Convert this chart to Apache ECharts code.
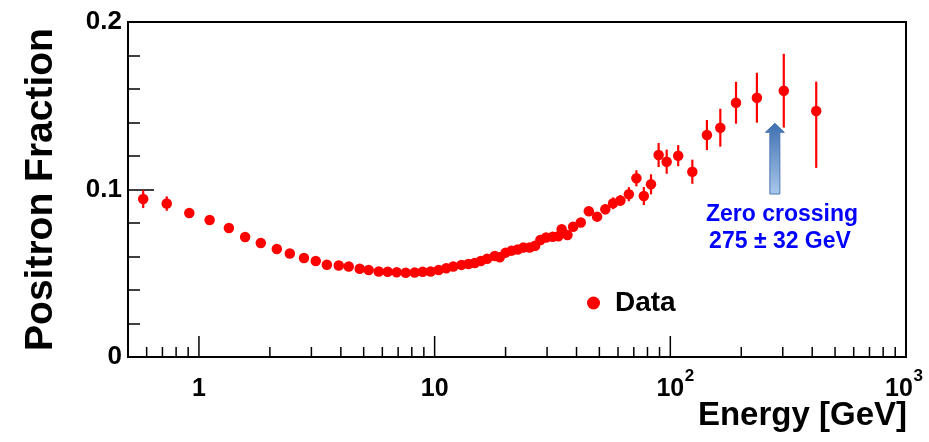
<!DOCTYPE html>
<html><head><meta charset="utf-8">
<script src="https://cdn.jsdelivr.net/npm/echarts@6/dist/echarts.min.js"></script>
<style>html,body{margin:0;padding:0;background:#fff}#c{width:929px;height:442px}</style>
</head><body><div id="c"></div>
<script>
// ---- data ----
const energy = [0.58, 0.73, 0.91, 1.11, 1.34, 1.57, 1.83, 2.14, 2.43, 2.79,
  3.13, 3.49, 3.92, 4.32, 4.81, 5.25, 5.79, 6.32, 6.90, 7.54,
  8.23, 8.90, 9.62, 10.4, 11.2, 12.0, 13.0, 13.9, 14.8, 15.7,
  16.7, 18.0, 18.9, 20.0, 21.2, 22.5, 23.8, 25.3, 26.7, 28.1,
  29.7, 31.7, 33.5, 34.6, 36.6, 38.7, 41.7, 45.1, 48.9, 53.0,
  57.2, 61.4, 66.7, 71.8, 77.2, 82.8, 89.2, 96.5, 108, 124,
  143, 163, 190, 233, 303, 416];
const fraction = [0.0943, 0.0916, 0.0860, 0.0818, 0.0770, 0.0716, 0.0681, 0.0645, 0.0618, 0.0591,
  0.0573, 0.0551, 0.0546, 0.0540, 0.0527, 0.0519, 0.0510, 0.0509, 0.0506, 0.0503,
  0.0504, 0.0509, 0.0510, 0.0519, 0.0530, 0.0540, 0.0550, 0.0555, 0.0561, 0.0573,
  0.0587, 0.0603, 0.0595, 0.0623, 0.0635, 0.0642, 0.0653, 0.0654, 0.0664, 0.0699,
  0.0713, 0.0718, 0.0721, 0.0763, 0.0728, 0.0778, 0.0803, 0.0870, 0.0838, 0.0882,
  0.0918, 0.0934, 0.0972, 0.1067, 0.0961, 0.1031, 0.1206, 0.1166, 0.1202, 0.1106,
  0.1325, 0.1369, 0.1518, 0.1548, 0.1590, 0.1469];
const errLow = [0.0054, 0.0043, 0.0020, 0.0012, 0.0012, 0.0012, 0.0012, 0.0012, 0.0012, 0.0012,
  0.0012, 0.0012, 0.0010, 0.0010, 0.0010, 0.0010, 0.0010, 0.0010, 0.0010, 0.0010,
  0.0010, 0.0010, 0.0010, 0.0010, 0.0010, 0.0010, 0.0010, 0.0010, 0.0010, 0.0010,
  0.0015, 0.0015, 0.0015, 0.0015, 0.0015, 0.0015, 0.0015, 0.0015, 0.0015, 0.0015,
  0.0020, 0.0020, 0.0020, 0.0020, 0.0020, 0.0020, 0.0020, 0.0025, 0.0025, 0.0030,
  0.0035, 0.0032, 0.0042, 0.0048, 0.0054, 0.0060, 0.0072, 0.0072, 0.0063, 0.0072,
  0.0090, 0.0113, 0.0125, 0.0149, 0.0220, 0.0340];
const errHigh = [0.0054, 0.0043, 0.0020, 0.0012, 0.0012, 0.0012, 0.0012, 0.0012, 0.0012, 0.0012,
  0.0012, 0.0012, 0.0010, 0.0010, 0.0010, 0.0010, 0.0010, 0.0010, 0.0010, 0.0010,
  0.0010, 0.0010, 0.0010, 0.0010, 0.0010, 0.0010, 0.0010, 0.0010, 0.0010, 0.0010,
  0.0015, 0.0015, 0.0015, 0.0015, 0.0015, 0.0015, 0.0015, 0.0015, 0.0015, 0.0015,
  0.0020, 0.0020, 0.0020, 0.0020, 0.0020, 0.0020, 0.0020, 0.0025, 0.0025, 0.0030,
  0.0035, 0.0032, 0.0042, 0.0048, 0.0054, 0.0060, 0.0072, 0.0072, 0.0063, 0.0072,
  0.0090, 0.0113, 0.0125, 0.0149, 0.0220, 0.0175];
const xMajorTicks = [1, 10, 100, 1000];
const xMajorLabels = ['1', '10', '10', '10'];
const xMajorExponents = ['', '', '2', '3'];
const xMinorTicks = [0.6, 0.7, 0.8, 0.9,
  2, 3, 4, 5, 6, 7, 8, 9,
  20, 30, 40, 50, 60, 70, 80, 90,
  200, 300, 400, 500, 600, 700, 800, 900];
const seriesName = 'Data';
const zeroCrossing = 275;           // GeV, arrow position
const arrowSpan = [0.0973, 0.1395]; // arrow base / tip (fraction)
const noteLines = ['Zero crossing', '275 ± 32 GeV'];

const FONT = '"Liberation Sans", Arial, Helvetica, sans-serif';
const RED = '#ff0000';

const chart = echarts.init(document.getElementById('c'));

// [value, 0, tickLength, labelIndex]
const tickData = xMajorTicks.map((v, i) => [v, 0, 21, i]).concat(xMinorTicks.map(v => [v, 0, 10, -1]));

chart.setOption({
  animation: false,
  backgroundColor: '#fff',
  grid: {left: 128, top: 22, width: 778, height: 335, show: true, borderColor: '#000', borderWidth: 2, containLabel: false},
  xAxis: {
    type: 'log', logBase: 10, min: 0.5, max: 1000,
    axisLine: {show: true, lineStyle: {color: '#000', width: 2}},
    axisTick: {show: false},
    splitLine: {show: false},
    minorTick: {show: false},
    axisLabel: {show: false}
  },
  yAxis: {
    type: 'value', min: 0, max: 0.2, interval: 0.1,
    axisLine: {show: true, lineStyle: {color: '#000', width: 2}},
    axisTick: {show: true, inside: true, length: 26, lineStyle: {color: '#000', width: 1.5}},
    minorTick: {show: true, splitNumber: 5, length: 12, lineStyle: {color: '#000', width: 1.5}},
    splitLine: {show: false},
    axisLabel: {margin: 6, color: '#000', fontFamily: FONT, fontWeight: 'bold', fontSize: 26,
      formatter: v => v === 0 ? '0' : v.toFixed(1)},
    name: 'Positron Fraction', nameLocation: 'middle', nameGap: 67, nameRotate: 90,
    nameTextStyle: {color: '#000', fontFamily: FONT, fontWeight: 'bold', fontSize: 39}
  },
  legend: {
    data: [{name: seriesName, icon: 'circle'}],
    left: 582, top: 284, itemWidth: 13, itemHeight: 13, itemGap: 0,
    textStyle: {color: '#000', fontFamily: FONT, fontWeight: 'bold', fontSize: 28, padding: [0, 0, 0, 10]}
  },
  graphic: [
    {type: 'text', right: 22, top: 399, style: {text: 'Energy [GeV]', fill: '#000', font: 'bold 33px ' + FONT}},
    {type: 'text', x: 782, y: 215, style: {text: noteLines[0], fill: '#0000ff', font: 'bold 23px ' + FONT, align: 'center', verticalAlign: 'middle'}},
    {type: 'text', x: 780, y: 242, style: {text: noteLines[1], fill: '#0000ff', font: 'bold 23px ' + FONT, align: 'center', verticalAlign: 'middle'}}
  ],
  series: [
    { // x-axis ticks (inside) and decade labels
      type: 'custom', silent: true, data: tickData, encode: {x: 0, y: 1}, z: 5, clip: false,
      renderItem: (params, api) => {
        const p = api.coord([api.value(0), api.value(1)]);
        const children = [{type: 'line', shape: {x1: p[0], y1: p[1], x2: p[0], y2: p[1] - api.value(2)},
          style: {stroke: '#000', lineWidth: 1.5}}];
        const li = api.value(3);
        if (li >= 0) {
          const exp = xMajorExponents[li];
          const cx = exp === '3' ? p[0] - 7 : p[0];
          children.push({type: 'text', x: cx, y: p[1] + 20,
            style: {text: xMajorLabels[li], fill: '#000', font: 'bold 25px ' + FONT, align: 'center', verticalAlign: 'top'}});
          if (exp) {
            children.push({type: 'text', x: cx + 14.5, y: p[1] + 11,
              style: {text: exp, fill: '#000', font: 'bold 17px ' + FONT, align: 'left', verticalAlign: 'top'}});
          }
        }
        return {type: 'group', children};
      }
    },
    { // error bars
      type: 'custom', silent: true, z: 3,
      data: energy.map((e, i) => [e, fraction[i] - errLow[i], fraction[i] + errHigh[i]]),
      encode: {x: 0, y: [1, 2]},
      renderItem: (params, api) => {
        const a = api.coord([api.value(0), api.value(1)]);
        const b = api.coord([api.value(0), api.value(2)]);
        return {type: 'line', shape: {x1: a[0], y1: a[1], x2: b[0], y2: b[1]}, style: {stroke: RED, lineWidth: 2.2}};
      }
    },
    {
      name: seriesName, type: 'scatter', z: 4,
      data: energy.map((e, i) => [e, fraction[i]]),
      symbol: 'circle', symbolSize: 10.5,
      itemStyle: {color: RED, opacity: 1}
    },
    { // zero-crossing arrow
      type: 'custom', silent: true, z: 6,
      data: [[zeroCrossing, arrowSpan[0], arrowSpan[1]]],
      encode: {x: 0, y: [1, 2]},
      renderItem: (params, api) => {
        const b = api.coord([api.value(0), api.value(1)]);
        const t = api.coord([api.value(0), api.value(2)]);
        const x = b[0] + 1, sw = 5, hw = 9.5, hh = 9;
        return {type: 'polygon', shape: {points: [
          [x - sw, b[1]], [x - sw, t[1] + hh], [x - hw, t[1] + hh], [x, t[1]],
          [x + hw, t[1] + hh], [x + sw, t[1] + hh], [x + sw, b[1]]]},
          style: {fill: new echarts.graphic.LinearGradient(0, 0, 0, 1, [
            {offset: 0, color: '#3f6fb0'}, {offset: 1, color: '#a9c8ec'}]),
            stroke: '#4a78b5', lineWidth: 1}};
      }
    }
  ]
});
</script></body></html>
